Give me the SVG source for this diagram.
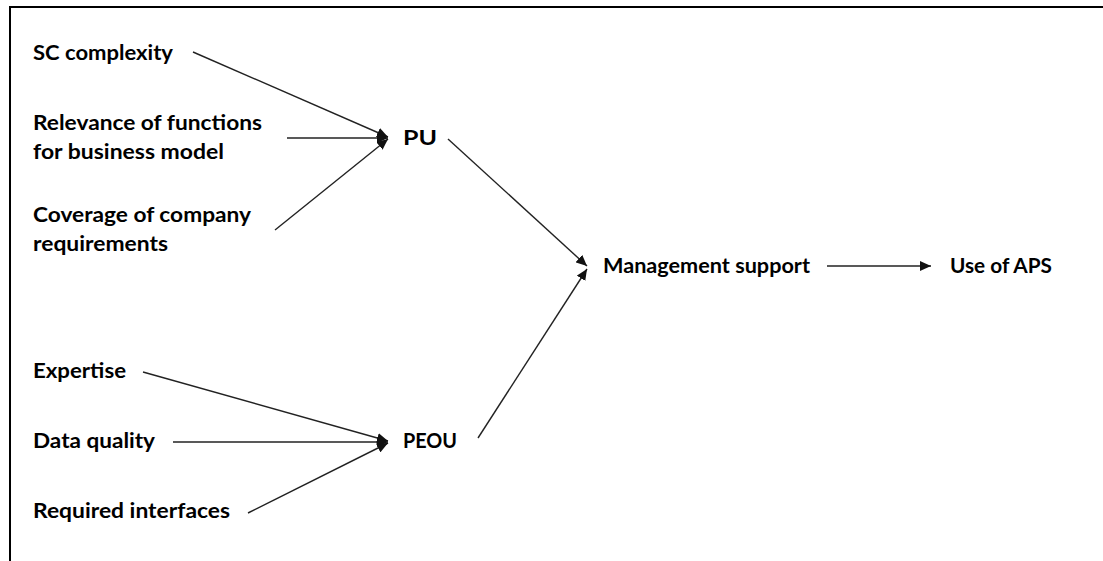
<svg xmlns="http://www.w3.org/2000/svg" width="1103" height="561" viewBox="0 0 1103 561">
<style>
text{font-family:Lato,"Liberation Sans",sans-serif;font-weight:700;font-size:20px;fill:#000}
.c{stroke:#222;stroke-width:1.4;fill:none;marker-end:url(#ah)}
.b{stroke:#000;stroke-width:2;fill:none}
</style>
<defs>
<marker id="ah" markerUnits="userSpaceOnUse" markerWidth="12" markerHeight="10" refX="11" refY="5" orient="auto">
<path d="M0,0 L11,5 L0,10 Z" fill="#111"/>
</marker>
</defs>
<rect width="1103" height="561" fill="#fff"/>
<path class="b" d="M10,561 V7 H1103"/>
<g id="sc"><text x="33" y="60" textLength="140" lengthAdjust="spacingAndGlyphs">SC complexity</text></g>
<g id="relevance"><text x="33" y="130" textLength="229" lengthAdjust="spacingAndGlyphs">Relevance of functions</text><text x="33" y="159" textLength="191" lengthAdjust="spacingAndGlyphs">for business model</text></g>
<g id="coverage"><text x="33" y="222" textLength="218" lengthAdjust="spacingAndGlyphs">Coverage of company</text><text x="33" y="251" textLength="135" lengthAdjust="spacingAndGlyphs">requirements</text></g>
<g id="pu"><text x="403" y="145" textLength="34" lengthAdjust="spacingAndGlyphs">PU</text></g>
<g id="mgmt"><text x="603" y="273" textLength="207" lengthAdjust="spacingAndGlyphs">Management support</text></g>
<g id="aps"><text x="950" y="273" textLength="102" lengthAdjust="spacingAndGlyphs">Use of APS</text></g>
<g id="expertise"><text x="33" y="378" textLength="93" lengthAdjust="spacingAndGlyphs">Expertise</text></g>
<g id="data"><text x="33" y="448" textLength="122" lengthAdjust="spacingAndGlyphs">Data quality</text></g>
<g id="interfaces"><text x="33" y="518" textLength="197" lengthAdjust="spacingAndGlyphs">Required interfaces</text></g>
<g id="peou"><text x="403" y="448" textLength="54" lengthAdjust="spacingAndGlyphs">PEOU</text></g>
<g id="connectors">
<line class="c" x1="193" y1="52" x2="388" y2="137"/>
<line class="c" x1="287" y1="138" x2="388" y2="138"/>
<line class="c" x1="275" y1="230" x2="388" y2="139"/>
<line class="c" x1="448" y1="139" x2="587" y2="266"/>
<line class="c" x1="478" y1="438" x2="587" y2="269"/>
<line class="c" x1="827" y1="266" x2="931" y2="266"/>
<line class="c" x1="143" y1="372" x2="388" y2="441"/>
<line class="c" x1="173" y1="442" x2="388" y2="442"/>
<line class="c" x1="248" y1="513" x2="388" y2="443"/>
</g>
</svg>
